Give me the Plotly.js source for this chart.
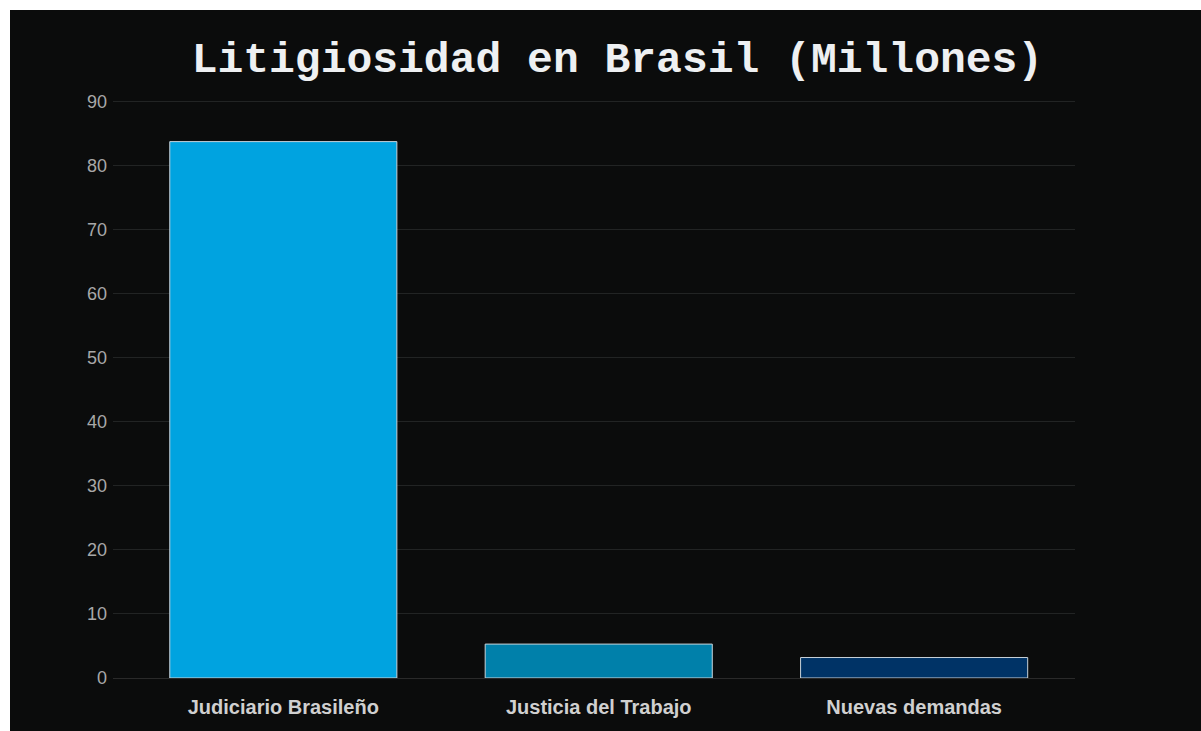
<!DOCTYPE html>
<html>
<head>
<meta charset="utf-8">
<script src="https://cdn.plot.ly/plotly-3.0.1.min.js"></script>
<style>
html,body{margin:0;padding:0;background:#ffffff;}
#chart{position:absolute;left:10px;top:10px;width:1191px;height:721px;}
</style>
</head>
<body>
<div id="chart"></div>
<script>
const categories = ["Judiciario Brasileño", "Justicia del Trabajo", "Nuevas demandas"];
const values = [83.8, 5.3, 3.2];
const barColors = ["#00a3e0", "#0080aa", "#003366"];
const yTicks = [0, 10, 20, 30, 40, 50, 60, 70, 80, 90];

const trace = {
  type: "bar",
  x: categories,
  y: values,
  marker: {color: barColors, line: {color: "#c9d3da", width: 1}},
  hoverinfo: "x+y"
};

const layout = {
  width: 1191,
  height: 721,
  paper_bgcolor: "#0b0c0c",
  plot_bgcolor: "#0b0c0c",
  margin: {l: 103, r: 126, t: 90, b: 53},
  bargap: 0.28,
  showlegend: false,
  title: {
    text: "<b>Litigiosidad en Brasil (Millones)</b>",
    font: {family: "Liberation Mono, Courier New, monospace", size: 43, color: "#eef0f2"},
    x: 0.51, xanchor: "center",
    y: 0.935, yanchor: "middle", xref: "container", yref: "container"
  },
  xaxis: {
    type: "category",
    range: [-0.54, 2.51],
    showgrid: false,
    zeroline: false,
    showline: false,
    ticks: "",
    ticklabelstandoff: 15,
    tickfont: {family: "Liberation Sans, Arial, sans-serif", size: 20, color: "#d0d0d0", weight: "bold"},
    tickangle: 0
  },
  yaxis: {
    range: [0, 90.3],
    tickvals: yTicks,
    ticktext: yTicks.map(String),
    showgrid: true,
    gridcolor: "#222424",
    gridwidth: 1,
    zeroline: true,
    zerolinecolor: "#2a2a2a",
    showline: false,
    ticks: "",
    ticklabelstandoff: 5,
    tickfont: {family: "Liberation Sans, Arial, sans-serif", size: 18, color: "#a8a8a8"}
  }
};

Plotly.newPlot("chart", [trace], layout, {displayModeBar: false, staticPlot: true});
</script>
</body>
</html>
